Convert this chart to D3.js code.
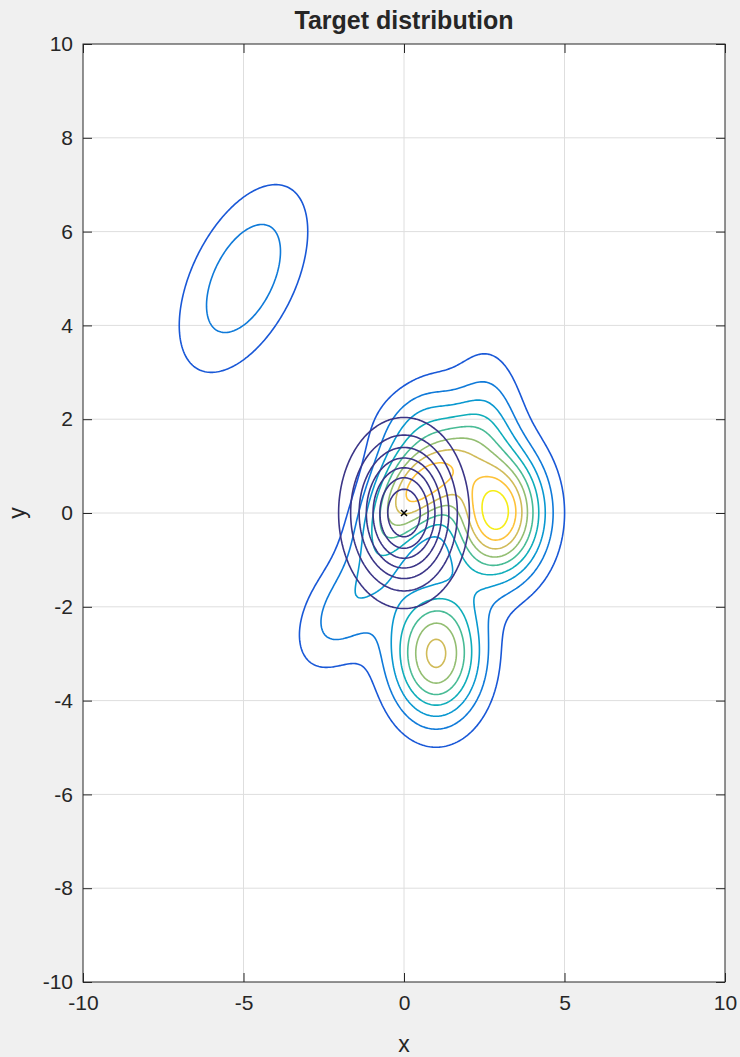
<!DOCTYPE html>
<html>
<head>
<meta charset="utf-8">
<script src="https://cdn.jsdelivr.net/npm/d3@7"></script>
<style>
    body { margin: 0; background: #f0f0f0; }
    svg text { font-family: 'Liberation Sans', Arial, Helvetica, sans-serif; fill: #262626; }
</style>
</head>
<body>
<div id="chart"></div>
<script>
// ---- data ----
// target = sum of bumps, heights in units of one contour step
const compName  = ['A', 'B', 'C', 'D', 'D2', 'E', 'F', 'G', 'H'];
const compMeanX = [-5.0, 2.88, 1.0, 0.85, -0.3, -2.2, 2.6,  1.0, -0.6];
const compMeanY = [ 5.0, 0.0, -3.0, 0.7,   0.1, -2.2, 2.2,  2.0,  1.6];
const compSdX   = [1.39, 1.0,  1.0, 1.0,   1.0,  0.9, 0.75, 1.0,  0.7];
const compSdY   = [1.39, 0.95, 1.0, 0.75,  1.5,  0.85, 1.0, 0.55, 0.7];
const compRho   = [0.5,  0.0,  0.0, 0.55,  0.6,  0.4, 0.0,  0.0,  0.0];
const compPeak  = [2.82, 9.5,  7.3, 5.8,   3.7,  1.9, 1.85, 1.4,  0.5];

const targetLevels = [1, 2, 3, 4, 5, 6, 7, 8, 9];
const targetMax = 9.4; // top of the colour range

// proposal: standard normal at the origin
const propMean = [0, 0];
const propSd = [1, 1];
const propLevels = [0.02, 0.04, 0.06, 0.08, 0.10, 0.12, 0.14];
const propColor = '#3b3587';

const markerPoint = [0, 0];

const xTicks = [-10, -5, 0, 5, 10];
const yTicks = [-10, -8, -6, -4, -2, 0, 2, 4, 6, 8, 10];

// parula stops
const parulaStops = [0, 0.095, 0.143, 0.238, 0.333, 0.429, 0.524, 0.619, 0.714, 0.81, 0.857, 0.905, 0.952, 1];
const parulaCols = ['#352a87', '#2053d4', '#0268e1', '#1480d6', '#079ccf', '#0faeb9', '#42bb98',
    '#87bf77', '#c0bc60', '#f1b94a', '#ffc337', '#f7d826', '#f5eb18', '#f9fa0e'];

// ---- layout ----
const width = 740, height = 1057;
const margin = { top: 44, right: 15, bottom: 75, left: 83 };

const svg = d3.select('#chart').append('svg')
    .attr('width', width).attr('height', height);

svg.append('rect').attr('width', width).attr('height', height).attr('fill', '#f0f0f0');

const x = d3.scaleLinear().domain([-10, 10]).range([margin.left, width - margin.right]);
const y = d3.scaleLinear().domain([-10, 10]).range([height - margin.bottom, margin.top]);

const parula = d3.scaleLinear().domain(parulaStops).range(parulaCols).interpolate(d3.interpolateRgb);

svg.append('clipPath').attr('id', 'clip')
    .append('rect')
    .attr('x', x(-10)).attr('y', y(10))
    .attr('width', x(10) - x(-10)).attr('height', y(-10) - y(10));

svg.append('rect')
    .attr('x', x(-10)).attr('y', y(10))
    .attr('width', x(10) - x(-10)).attr('height', y(-10) - y(10))
    .attr('fill', '#fff');

// grid
const grid = svg.append('g');
grid.selectAll('.gx').data(xTicks.slice(1, -1)).enter().append('line')
    .attr('x1', d => x(d)).attr('x2', d => x(d))
    .attr('y1', y(-10)).attr('y2', y(10))
    .attr('stroke', '#dedede').attr('stroke-width', 1);
grid.selectAll('.gy').data(yTicks.slice(1, -1)).enter().append('line')
    .attr('y1', d => y(d)).attr('y2', d => y(d))
    .attr('x1', x(-10)).attr('x2', x(10))
    .attr('stroke', '#dedede').attr('stroke-width', 1);

// ---- densities on a grid ----
const step = 0.05;
const n = Math.round(20 / step) + 1;
const x0 = -10, y0 = -10;

function bump(i, px, py) {
    const dx = (px - compMeanX[i]) / compSdX[i];
    const dy = (py - compMeanY[i]) / compSdY[i];
    const r = compRho[i];
    const q = (dx * dx - 2 * r * dx * dy + dy * dy) / (1 - r * r);
    return compPeak[i] * Math.exp(-0.5 * q);
}

const targetVals = new Float64Array(n * n);
const propVals = new Float64Array(n * n);
for (let j = 0; j < n; j++) {
    const py = y0 + j * step;
    for (let i = 0; i < n; i++) {
        const px = x0 + i * step;
        let s = 0;
        for (let k = 0; k < compName.length; k++) s += bump(k, px, py);
        targetVals[j * n + i] = s;
        const ux = (px - propMean[0]) / propSd[0], uy = (py - propMean[1]) / propSd[1];
        propVals[j * n + i] = Math.exp(-0.5 * (ux * ux + uy * uy)) / (2 * Math.PI * propSd[0] * propSd[1]);
    }
}

// grid coords -> pixels
const toPx = d3.geoTransform({
    point: function (gx, gy) {
        this.stream.point(x(x0 + (gx - 0.5) * step), y(y0 + (gy - 0.5) * step));
    },
});
const path = d3.geoPath(toPx);

const plot = svg.append('g').attr('clip-path', 'url(#clip)');

const targetContours = d3.contours().size([n, n]).thresholds(targetLevels)(targetVals);
plot.append('g').selectAll('path').data(targetContours).enter().append('path')
    .attr('d', path)
    .attr('fill', 'none')
    .attr('stroke', d => parula(d.value / targetMax))
    .attr('stroke-width', 1.6)
    .attr('stroke-linejoin', 'round');

const propContours = d3.contours().size([n, n]).thresholds(propLevels)(propVals);
plot.append('g').selectAll('path').data(propContours).enter().append('path')
    .attr('d', path)
    .attr('fill', 'none')
    .attr('stroke', propColor)
    .attr('stroke-width', 1.6)
    .attr('stroke-linejoin', 'round');

// x marker
plot.append('path')
    .attr('transform', `translate(${x(markerPoint[0])},${y(markerPoint[1])})`)
    .attr('d', 'M-3,-3L3,3M-3,3L3,-3')
    .attr('stroke', '#000').attr('stroke-width', 1.5);

// ---- axes ----
const tickLen = 9;
function styleAxis(g) {
    g.select('.domain').remove();
    g.selectAll('.tick line').attr('stroke', '#262626');
    g.selectAll('.tick text').attr('font-size', 21).attr('fill', '#262626');
}

svg.append('g').attr('transform', `translate(0,${y(-10)})`)
    .call(d3.axisBottom(x).tickValues(xTicks).tickSize(-tickLen).tickPadding(13).tickFormat(d3.format('d')))
    .call(styleAxis);
svg.append('g').attr('transform', `translate(0,${y(10)})`)
    .call(d3.axisTop(x).tickValues(xTicks).tickSize(-tickLen).tickFormat(''))
    .call(styleAxis);
svg.append('g').attr('transform', `translate(${x(-10)},0)`)
    .call(d3.axisLeft(y).tickValues(yTicks).tickSize(-tickLen).tickPadding(10).tickFormat(d3.format('d')))
    .call(styleAxis);
svg.append('g').attr('transform', `translate(${x(10)},0)`)
    .call(d3.axisRight(y).tickValues(yTicks).tickSize(-tickLen).tickFormat(''))
    .call(styleAxis);

svg.selectAll('.tick text').style('font-family', "'Liberation Sans', Arial, sans-serif");
// plain hyphen minus like the original
svg.selectAll('.tick text').text(function () { return d3.select(this).text().replace('\u2212', '-'); });

svg.append('rect')
    .attr('x', x(-10)).attr('y', y(10))
    .attr('width', x(10) - x(-10)).attr('height', y(-10) - y(10))
    .attr('fill', 'none').attr('stroke', '#262626').attr('stroke-width', 1);

// titles
svg.append('text')
    .attr('x', (x(-10) + x(10)) / 2).attr('y', 29)
    .attr('text-anchor', 'middle').attr('font-size', 25).attr('font-weight', 'bold')
    .attr('fill', '#000')
    .text('Target distribution');

svg.append('text')
    .attr('x', (x(-10) + x(10)) / 2).attr('y', 1052)
    .attr('text-anchor', 'middle').attr('font-size', 23)
    .text('x');

svg.append('text')
    .attr('transform', `translate(25,${(y(-10) + y(10)) / 2}) rotate(-90)`)
    .attr('text-anchor', 'middle').attr('font-size', 23)
    .text('y');
</script>
</body>
</html>
